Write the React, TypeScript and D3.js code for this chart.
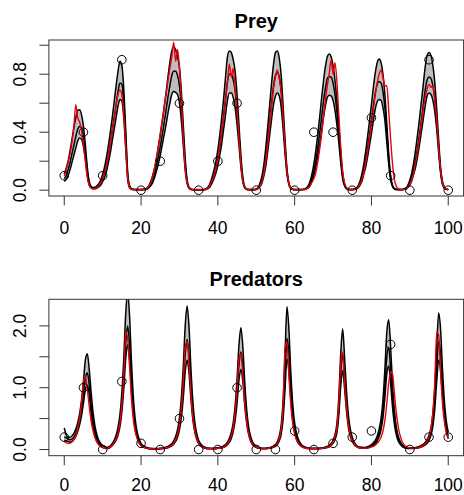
import React from "react";
import * as d3 from "d3";

// time grid step for the simulated curves (t = index * step, 0..100)
const timeStep = 0.5;

const xTicks = [0, 20, 40, 60, 80, 100];

const preyTicks = [0, 0.2, 0.4, 0.6, 0.8, 1.0];
const preyTickLabels = ["0.0", "", "0.4", "", "0.8", ""];
const predTicks = [0, 0.5, 1.0, 1.5, 2.0];
const predTickLabels = ["0.0", "", "1.0", "", "2.0"];

const obsTimes = [0, 5, 10, 15, 20, 25, 30, 35, 40, 45, 50, 55, 60, 65, 70, 75, 80, 85, 90, 95, 100];
const preyObs = [0.1, 0.4, 0.1, 0.9, 0.0, 0.2, 0.6, 0.0, 0.2, 0.6, 0.0, null, 0.0, 0.4, 0.4, 0.0, 0.5, 0.1, 0.0, 0.9, 0.0];
const predObs = [0.2, 1.0, 0.0, 1.1, 0.1, 0.0, 0.5, 0.0, 0.0, 1.0, 0.0, 0.0, 0.3, 0.0, 0.1, 0.2, 0.3, 1.7, 0.0, 0.2, 0.2];

// prey: upper / median / lower quantile and one red trajectory
const preyUpper = [
  0.11, 0.15, 0.20, 0.27, 0.35, 0.43, 0.50, 0.55, 0.555, 0.52,
  0.44, 0.31, 0.16, 0.06, 0.025, 0.018, 0.02, 0.03, 0.045, 0.07,
  0.11, 0.16, 0.23, 0.31, 0.40, 0.50, 0.61, 0.72, 0.82, 0.89,
  0.86, 0.70, 0.42, 0.13, 0.03, 0.01, 0.006, 0.005, 0.005, 0.005,
  0.005, 0.006, 0.008, 0.015, 0.03, 0.06, 0.10, 0.15, 0.22, 0.30,
  0.38, 0.47, 0.57, 0.67, 0.78, 0.88, 0.96, 0.99, 0.97, 0.92,
  0.85, 0.68, 0.45, 0.22, 0.07, 0.02, 0.008, 0.005, 0.004, 0.004,
  0.004, 0.004, 0.004, 0.006, 0.012, 0.025, 0.05, 0.09, 0.14, 0.20,
  0.28, 0.38, 0.50, 0.63, 0.78, 0.92, 0.96, 0.95, 0.90, 0.82,
  0.66, 0.45, 0.24, 0.09, 0.025, 0.008, 0.005, 0.005, 0.005, 0.005,
  0.008, 0.02, 0.05, 0.10, 0.18, 0.30, 0.44, 0.59, 0.74, 0.87,
  0.95, 0.96, 0.91, 0.79, 0.58, 0.35, 0.15, 0.05, 0.015, 0.007,
  0.005, 0.005, 0.005, 0.005, 0.005, 0.008, 0.015, 0.03, 0.06, 0.11,
  0.18, 0.27, 0.38, 0.50, 0.63, 0.75, 0.85, 0.92, 0.94, 0.92,
  0.86, 0.76, 0.62, 0.45, 0.27, 0.12, 0.04, 0.015, 0.007, 0.005,
  0.005, 0.008, 0.015, 0.03, 0.06, 0.11, 0.18, 0.27, 0.37, 0.48,
  0.59, 0.71, 0.81, 0.88, 0.905, 0.88, 0.80, 0.66, 0.46, 0.25,
  0.10, 0.03, 0.01, 0.006, 0.005, 0.005, 0.005, 0.008, 0.016, 0.035,
  0.07, 0.12, 0.19, 0.28, 0.38, 0.49, 0.61, 0.73, 0.85, 0.93,
  0.95, 0.93, 0.86, 0.74, 0.56, 0.35, 0.16, 0.06, 0.02, 0.008,
  0.005,
];
const preyMedian = [
  0.08, 0.10, 0.14, 0.19, 0.25, 0.31, 0.37, 0.42, 0.44, 0.43,
  0.37, 0.26, 0.13, 0.05, 0.02, 0.013, 0.014, 0.02, 0.03, 0.05,
  0.08, 0.12, 0.17, 0.24, 0.32, 0.41, 0.50, 0.59, 0.68, 0.74,
  0.73, 0.60, 0.36, 0.11, 0.025, 0.008, 0.005, 0.004, 0.004, 0.004,
  0.004, 0.004, 0.005, 0.01, 0.02, 0.04, 0.07, 0.11, 0.17, 0.23,
  0.30, 0.38, 0.46, 0.55, 0.64, 0.72, 0.79, 0.82, 0.82, 0.79,
  0.72, 0.58, 0.38, 0.18, 0.06, 0.017, 0.007, 0.004, 0.003, 0.003,
  0.003, 0.003, 0.003, 0.004, 0.008, 0.018, 0.035, 0.065, 0.10, 0.15,
  0.22, 0.30, 0.40, 0.51, 0.63, 0.75, 0.80, 0.80, 0.76, 0.69,
  0.55, 0.38, 0.20, 0.075, 0.02, 0.007, 0.004, 0.004, 0.004, 0.004,
  0.006, 0.014, 0.035, 0.07, 0.13, 0.22, 0.34, 0.47, 0.60, 0.72,
  0.79, 0.81, 0.78, 0.68, 0.50, 0.30, 0.13, 0.045, 0.013, 0.006,
  0.004, 0.004, 0.004, 0.004, 0.004, 0.006, 0.01, 0.02, 0.04, 0.08,
  0.13, 0.20, 0.29, 0.39, 0.50, 0.61, 0.70, 0.77, 0.785, 0.78,
  0.74, 0.66, 0.54, 0.39, 0.23, 0.10, 0.035, 0.012, 0.006, 0.004,
  0.004, 0.006, 0.011, 0.022, 0.045, 0.08, 0.14, 0.21, 0.29, 0.38,
  0.48, 0.58, 0.67, 0.73, 0.75, 0.74, 0.68, 0.57, 0.40, 0.22,
  0.09, 0.03, 0.01, 0.005, 0.004, 0.004, 0.004, 0.006, 0.011, 0.025,
  0.05, 0.09, 0.14, 0.21, 0.29, 0.38, 0.48, 0.59, 0.69, 0.76,
  0.78, 0.77, 0.72, 0.63, 0.48, 0.30, 0.14, 0.05, 0.017, 0.007,
  0.004,
];
const preyLower = [
  0.06, 0.075, 0.10, 0.14, 0.19, 0.24, 0.29, 0.34, 0.36, 0.35,
  0.30, 0.21, 0.10, 0.035, 0.015, 0.01, 0.01, 0.015, 0.022, 0.035,
  0.06, 0.09, 0.13, 0.19, 0.26, 0.34, 0.42, 0.50, 0.58, 0.625,
  0.615, 0.50, 0.29, 0.08, 0.018, 0.006, 0.004, 0.003, 0.003, 0.003,
  0.003, 0.003, 0.004, 0.007, 0.015, 0.03, 0.05, 0.085, 0.13, 0.18,
  0.24, 0.31, 0.38, 0.45, 0.53, 0.60, 0.66, 0.68, 0.675, 0.66,
  0.60, 0.48, 0.31, 0.14, 0.045, 0.013, 0.005, 0.003, 0.002, 0.002,
  0.002, 0.002, 0.002, 0.003, 0.006, 0.013, 0.025, 0.05, 0.08, 0.12,
  0.17, 0.24, 0.32, 0.42, 0.52, 0.62, 0.67, 0.67, 0.64, 0.57,
  0.45, 0.31, 0.16, 0.06, 0.016, 0.006, 0.003, 0.003, 0.003, 0.003,
  0.004, 0.01, 0.025, 0.05, 0.10, 0.17, 0.27, 0.38, 0.49, 0.59,
  0.65, 0.67, 0.65, 0.57, 0.42, 0.25, 0.11, 0.037, 0.011, 0.005,
  0.003, 0.003, 0.003, 0.003, 0.003, 0.004, 0.008, 0.015, 0.03, 0.06,
  0.10, 0.16, 0.23, 0.31, 0.40, 0.50, 0.58, 0.64, 0.655, 0.65,
  0.62, 0.55, 0.45, 0.33, 0.19, 0.08, 0.03, 0.01, 0.005, 0.003,
  0.003, 0.004, 0.008, 0.016, 0.033, 0.06, 0.11, 0.16, 0.23, 0.31,
  0.39, 0.48, 0.56, 0.61, 0.625, 0.62, 0.57, 0.48, 0.33, 0.18,
  0.07, 0.025, 0.008, 0.004, 0.003, 0.003, 0.003, 0.004, 0.008, 0.018,
  0.035, 0.065, 0.11, 0.16, 0.23, 0.31, 0.40, 0.49, 0.58, 0.65,
  0.67, 0.66, 0.62, 0.54, 0.42, 0.26, 0.12, 0.04, 0.014, 0.006,
  0.003,
];
const preyRed = [
  0.10, 0.14, 0.19, 0.25, 0.33, 0.44, 0.59, 0.50, 0.47, 0.41,
  0.31, 0.20, 0.09, 0.035, 0.015, 0.01, 0.012, 0.018, 0.03, 0.05,
  0.08, 0.12, 0.17, 0.24, 0.32, 0.41, 0.49, 0.58, 0.66, 0.69,
  0.66, 0.52, 0.30, 0.09, 0.02, 0.007, 0.004, 0.004, 0.003, 0.003,
  0.003, 0.004, 0.006, 0.012, 0.025, 0.05, 0.09, 0.15, 0.22, 0.30,
  0.39, 0.48, 0.57, 0.66, 0.75, 0.84, 0.92, 1.02, 0.89, 0.97,
  0.84, 0.62, 0.36, 0.15, 0.05, 0.017, 0.007, 0.004, 0.003, 0.003,
  0.003, 0.003, 0.003, 0.004, 0.008, 0.017, 0.035, 0.065, 0.10, 0.15,
  0.22, 0.30, 0.40, 0.50, 0.62, 0.74, 0.87, 0.78, 0.84, 0.70,
  0.55, 0.36, 0.18, 0.065, 0.02, 0.007, 0.005, 0.004, 0.004, 0.004,
  0.005, 0.012, 0.03, 0.06, 0.12, 0.21, 0.32, 0.45, 0.58, 0.70,
  0.78, 0.83, 0.77, 0.68, 0.50, 0.30, 0.13, 0.045, 0.014, 0.006,
  0.004, 0.004, 0.004, 0.004, 0.004, 0.005, 0.008, 0.015, 0.03, 0.055,
  0.08, 0.12, 0.19, 0.28, 0.38, 0.50, 0.62, 0.72, 0.80, 0.90,
  0.80, 0.88, 0.75, 0.52, 0.30, 0.13, 0.05, 0.018, 0.008, 0.005,
  0.005, 0.006, 0.01, 0.02, 0.04, 0.07, 0.12, 0.19, 0.27, 0.36,
  0.46, 0.56, 0.66, 0.74, 0.80, 0.83, 0.78, 0.72, 0.72, 0.55,
  0.35, 0.18, 0.07, 0.025, 0.01, 0.006, 0.006, 0.006, 0.01, 0.02,
  0.04, 0.075, 0.12, 0.19, 0.27, 0.36, 0.46, 0.56, 0.64, 0.70,
  0.73, 0.71, 0.72, 0.62, 0.48, 0.30, 0.14, 0.05, 0.018, 0.008,
  0.005,
];

// predators
const predUpper = [
  0.35, 0.24, 0.20, 0.20, 0.22, 0.26, 0.33, 0.43, 0.58, 0.80,
  1.10, 1.45, 1.55, 1.30, 0.92, 0.60, 0.38, 0.24, 0.15, 0.10,
  0.065, 0.045, 0.035, 0.04, 0.06, 0.10, 0.15, 0.23, 0.36, 0.56,
  0.92, 1.48, 2.19, 2.55, 2.17, 1.43, 0.84, 0.48, 0.28, 0.17,
  0.10, 0.065, 0.045, 0.032, 0.025, 0.02, 0.018, 0.017, 0.017, 0.018,
  0.02, 0.024, 0.03, 0.04, 0.05, 0.07, 0.095, 0.14, 0.21, 0.32,
  0.51, 0.84, 1.35, 2.0, 2.32, 1.97, 1.3, 0.77, 0.44, 0.26,
  0.15, 0.093, 0.058, 0.04, 0.03, 0.024, 0.02, 0.019, 0.02, 0.024,
  0.03, 0.035, 0.04, 0.06, 0.08, 0.12, 0.18, 0.28, 0.43, 0.71,
  1.14, 1.69, 1.97, 1.67, 1.1, 0.65, 0.37, 0.22, 0.13, 0.08,
  0.05, 0.035, 0.025, 0.022, 0.021, 0.022, 0.025, 0.03, 0.04, 0.055,
  0.08, 0.13, 0.22, 0.40, 0.80, 1.55, 2.31, 1.95, 1.25, 0.74,
  0.43, 0.26, 0.16, 0.10, 0.065, 0.045, 0.033, 0.026, 0.022, 0.021,
  0.02, 0.02, 0.021, 0.023, 0.025, 0.03, 0.04, 0.05, 0.07, 0.10,
  0.15, 0.24, 0.42, 0.85, 1.55, 1.95, 1.5, 0.95, 0.56, 0.33,
  0.2, 0.12, 0.075, 0.05, 0.04, 0.035, 0.034, 0.037, 0.045, 0.06,
  0.08, 0.11, 0.15, 0.22, 0.33, 0.5, 0.8, 1.3, 1.9, 2.1,
  1.65, 1.05, 0.62, 0.36, 0.21, 0.13, 0.08, 0.052, 0.035, 0.028,
  0.025, 0.025, 0.028, 0.033, 0.04, 0.05, 0.065, 0.085, 0.115, 0.16,
  0.23, 0.35, 0.58, 1.0, 1.65, 2.21, 1.95, 1.3, 0.78, 0.46,
  0.28,
];
const predMedian = [
  0.20, 0.19, 0.17, 0.16, 0.17, 0.20, 0.26, 0.35, 0.48, 0.66,
  0.90, 1.15, 1.24, 1.05, 0.72, 0.46, 0.29, 0.18, 0.11, 0.07,
  0.045, 0.03, 0.022, 0.025, 0.045, 0.08, 0.12, 0.18, 0.28, 0.44,
  0.72, 1.16, 1.72, 2.0, 1.7, 1.12, 0.66, 0.38, 0.22, 0.13,
  0.08, 0.05, 0.035, 0.025, 0.018, 0.014, 0.012, 0.012, 0.012, 0.013,
  0.015, 0.018, 0.022, 0.03, 0.038, 0.053, 0.072, 0.11, 0.16, 0.25,
  0.39, 0.64, 1.03, 1.53, 1.78, 1.51, 1.0, 0.59, 0.34, 0.2,
  0.115, 0.07, 0.045, 0.03, 0.022, 0.017, 0.015, 0.014, 0.015, 0.018,
  0.022, 0.026, 0.03, 0.045, 0.063, 0.095, 0.14, 0.22, 0.35, 0.57,
  0.92, 1.36, 1.58, 1.34, 0.88, 0.52, 0.3, 0.17, 0.1, 0.063,
  0.04, 0.028, 0.02, 0.017, 0.016, 0.017, 0.02, 0.025, 0.032, 0.045,
  0.065, 0.1, 0.17, 0.31, 0.62, 1.2, 1.8, 1.56, 1.0, 0.58,
  0.34, 0.2, 0.125, 0.08, 0.052, 0.036, 0.026, 0.02, 0.017, 0.016,
  0.016, 0.016, 0.017, 0.018, 0.02, 0.024, 0.032, 0.04, 0.055, 0.08,
  0.12, 0.19, 0.33, 0.67, 1.23, 1.55, 1.2, 0.75, 0.44, 0.26,
  0.155, 0.095, 0.06, 0.04, 0.03, 0.026, 0.026, 0.028, 0.035, 0.047,
  0.063, 0.085, 0.12, 0.17, 0.26, 0.39, 0.63, 1.02, 1.5, 1.65,
  1.3, 0.83, 0.49, 0.28, 0.165, 0.1, 0.063, 0.04, 0.027, 0.021,
  0.019, 0.019, 0.021, 0.025, 0.031, 0.039, 0.05, 0.066, 0.09, 0.125,
  0.18, 0.28, 0.46, 0.8, 1.32, 1.75, 1.55, 1.03, 0.62, 0.36,
  0.22,
];
const predLower = [
  0.15, 0.14, 0.13, 0.12, 0.13, 0.16, 0.21, 0.29, 0.40, 0.55,
  0.75, 0.97, 1.04, 0.88, 0.58, 0.36, 0.22, 0.13, 0.08, 0.05,
  0.03, 0.02, 0.015, 0.018, 0.035, 0.065, 0.10, 0.15, 0.23, 0.37,
  0.61, 0.98, 1.46, 1.70, 1.44, 0.95, 0.56, 0.32, 0.19, 0.11,
  0.065, 0.04, 0.028, 0.02, 0.014, 0.011, 0.009, 0.009, 0.009, 0.01,
  0.012, 0.014, 0.018, 0.024, 0.03, 0.043, 0.058, 0.087, 0.13, 0.2,
  0.32, 0.52, 0.84, 1.25, 1.45, 1.23, 0.81, 0.48, 0.28, 0.16,
  0.094, 0.058, 0.036, 0.025, 0.018, 0.014, 0.012, 0.011, 0.012, 0.014,
  0.018, 0.021, 0.025, 0.037, 0.052, 0.078, 0.115, 0.18, 0.29, 0.47,
  0.75, 1.12, 1.3, 1.1, 0.72, 0.43, 0.25, 0.14, 0.082, 0.052,
  0.033, 0.023, 0.016, 0.013, 0.012, 0.013, 0.015, 0.02, 0.026, 0.036,
  0.052, 0.08, 0.14, 0.25, 0.5, 0.98, 1.47, 1.27, 0.82, 0.47,
  0.28, 0.165, 0.1, 0.065, 0.042, 0.03, 0.021, 0.016, 0.013, 0.012,
  0.012, 0.012, 0.013, 0.014, 0.016, 0.02, 0.026, 0.033, 0.045, 0.066,
  0.1, 0.16, 0.27, 0.55, 1.02, 1.28, 0.99, 0.62, 0.36, 0.21,
  0.13, 0.078, 0.05, 0.033, 0.024, 0.02, 0.02, 0.022, 0.028, 0.038,
  0.05, 0.07, 0.097, 0.14, 0.21, 0.32, 0.51, 0.84, 1.22, 1.35,
  1.06, 0.68, 0.4, 0.23, 0.135, 0.083, 0.052, 0.033, 0.022, 0.017,
  0.015, 0.015, 0.017, 0.02, 0.025, 0.032, 0.041, 0.054, 0.074, 0.1,
  0.15, 0.23, 0.38, 0.66, 1.1, 1.45, 1.28, 0.85, 0.51, 0.3,
  0.18,
];
const predRed = [
  0.13, 0.11, 0.10, 0.10, 0.12, 0.16, 0.23, 0.34, 0.50, 0.75,
  1.10, 1.18, 0.98, 0.70, 0.46, 0.30, 0.19, 0.12, 0.075, 0.05,
  0.035, 0.025, 0.02, 0.025, 0.04, 0.07, 0.11, 0.17, 0.27, 0.43,
  0.72, 1.2, 1.9, 1.8, 1.35, 0.82, 0.48, 0.28, 0.17, 0.10,
  0.065, 0.042, 0.03, 0.022, 0.016, 0.013, 0.011, 0.011, 0.011, 0.012,
  0.014, 0.017, 0.021, 0.028, 0.035, 0.05, 0.07, 0.105, 0.16, 0.25,
  0.4, 0.67, 1.1, 1.65, 1.75, 1.38, 0.88, 0.52, 0.3, 0.18,
  0.105, 0.065, 0.042, 0.028, 0.02, 0.016, 0.014, 0.013, 0.014, 0.016,
  0.02, 0.023, 0.028, 0.04, 0.06, 0.09, 0.14, 0.22, 0.36, 0.6,
  0.98, 1.46, 1.55, 1.2, 0.76, 0.45, 0.26, 0.15, 0.09, 0.057,
  0.037, 0.026, 0.019, 0.015, 0.014, 0.015, 0.018, 0.023, 0.03, 0.043,
  0.065, 0.1, 0.18, 0.34, 0.72, 1.65, 1.75, 1.2, 0.72, 0.42,
  0.25, 0.15, 0.095, 0.06, 0.04, 0.028, 0.02, 0.016, 0.014, 0.013,
  0.013, 0.014, 0.015, 0.016, 0.018, 0.022, 0.03, 0.038, 0.052, 0.078,
  0.12, 0.2, 0.36, 0.74, 1.4, 1.58, 1.1, 0.68, 0.4, 0.24,
  0.14, 0.085, 0.055, 0.037, 0.026, 0.021, 0.02, 0.021, 0.025, 0.03,
  0.04, 0.052, 0.07, 0.1, 0.14, 0.2, 0.3, 0.47, 0.75, 1.08,
  1.26, 1.22, 0.9, 0.58, 0.36, 0.22, 0.13, 0.08, 0.05, 0.035,
  0.026, 0.022, 0.021, 0.022, 0.026, 0.033, 0.045, 0.062, 0.088, 0.13,
  0.2, 0.33, 0.6, 1.1, 1.9, 1.85, 1.25, 0.75, 0.45, 0.27,
  0.17,
];

const xScale = d3.scaleLinear().domain([-4, 104]).range([48.9, 463.6]);

const font = "'Liberation Sans', Arial, Helvetica, sans-serif";

type PanelProps = {
  id: string;
  title: string;
  titleY: number;
  boxTop: number;
  boxBottom: number;
  labelY: number;
  yDomain: [number, number];
  yTicks: number[];
  yTickLabels: string[];
  upper: number[];
  median: number[];
  lower: number[];
  red: number[];
  obs: (number | null)[];
};

function Panel(p: PanelProps) {
  const y = d3.scaleLinear().domain(p.yDomain).range([p.boxBottom, p.boxTop]);
  const [x0, x1] = xScale.range();

  const line = d3
    .line<number>()
    .x((_, i) => xScale(i * timeStep))
    .y((d) => y(d))
    .curve(d3.curveMonotoneX);

  const band = d3
    .area<number>()
    .x((_, i) => xScale(i * timeStep))
    .y0((_, i) => y(p.lower[i]))
    .y1((d) => y(d))
    .curve(d3.curveMonotoneX);

  const tickLen = 9.5;

  return (
    <g>
      <defs>
        <clipPath id={p.id}>
          <rect x={x0} y={p.boxTop} width={x1 - x0} height={p.boxBottom - p.boxTop} />
        </clipPath>
      </defs>
      <text
        x={(x0 + x1) / 2}
        y={p.titleY}
        textAnchor="middle"
        fontFamily={font}
        fontWeight="bold"
        fontSize={20}
      >
        {p.title}
      </text>

      <g clipPath={`url(#${p.id})`}>
        <path d={band(p.upper) ?? ""} fill="#bebebe" stroke="none" />
        <path d={line(p.upper) ?? ""} fill="none" stroke="#000" strokeWidth={1.5} />
        <path d={line(p.lower) ?? ""} fill="none" stroke="#000" strokeWidth={1.5} />
        <path d={line(p.median) ?? ""} fill="none" stroke="#000" strokeWidth={1.5} />
        <path d={line(p.red) ?? ""} fill="none" stroke="#e8000b" strokeWidth={1.4} />
        {obsTimes.map((t, i) =>
          p.obs[i] == null ? null : (
            <circle
              key={t}
              cx={xScale(t)}
              cy={y(p.obs[i] as number)}
              r={4.3}
              fill="none"
              stroke="#000"
              strokeWidth={1}
            />
          )
        )}
      </g>

      <rect
        x={x0}
        y={p.boxTop}
        width={x1 - x0}
        height={p.boxBottom - p.boxTop}
        fill="none"
        stroke="#333"
        strokeWidth={1}
      />

      {xTicks.map((t) => (
        <g key={t}>
          <line
            x1={xScale(t)}
            x2={xScale(t)}
            y1={p.boxBottom}
            y2={p.boxBottom + tickLen}
            stroke="#333"
          />
          <text
            x={xScale(t)}
            y={p.labelY}
            textAnchor="middle"
            fontFamily={font}
            fontSize={17.5}
          >
            {t}
          </text>
        </g>
      ))}

      {p.yTicks.map((v, i) => (
        <g key={v}>
          <line x1={x0 - tickLen} x2={x0} y1={y(v)} y2={y(v)} stroke="#333" />
          {p.yTickLabels[i] !== "" && (
            <text
              x={26}
              y={y(v)}
              transform={`rotate(-90, 26, ${y(v)})`}
              textAnchor="middle"
              fontFamily={font}
              fontSize={17.5}
            >
              {p.yTickLabels[i]}
            </text>
          )}
        </g>
      ))}
    </g>
  );
}

export default function App() {
  return (
    <svg
      width={464}
      height={495}
      style={{ position: "absolute", left: 0, top: 0, background: "#fff" }}
    >
      <Panel
        id="clip-prey"
        title="Prey"
        titleY={28}
        boxTop={40}
        boxBottom={196}
        labelY={234}
        yDomain={[-0.04, 1.036]}
        yTicks={preyTicks}
        yTickLabels={preyTickLabels}
        upper={preyUpper}
        median={preyMedian}
        lower={preyLower}
        red={preyRed}
        obs={preyObs}
      />
      <Panel
        id="clip-pred"
        title="Predators"
        titleY={286}
        boxTop={299.3}
        boxBottom={455.7}
        labelY={491}
        yDomain={[-0.1, 2.43]}
        yTicks={predTicks}
        yTickLabels={predTickLabels}
        upper={predUpper}
        median={predMedian}
        lower={predLower}
        red={predRed}
        obs={predObs}
      />
    </svg>
  );
}
